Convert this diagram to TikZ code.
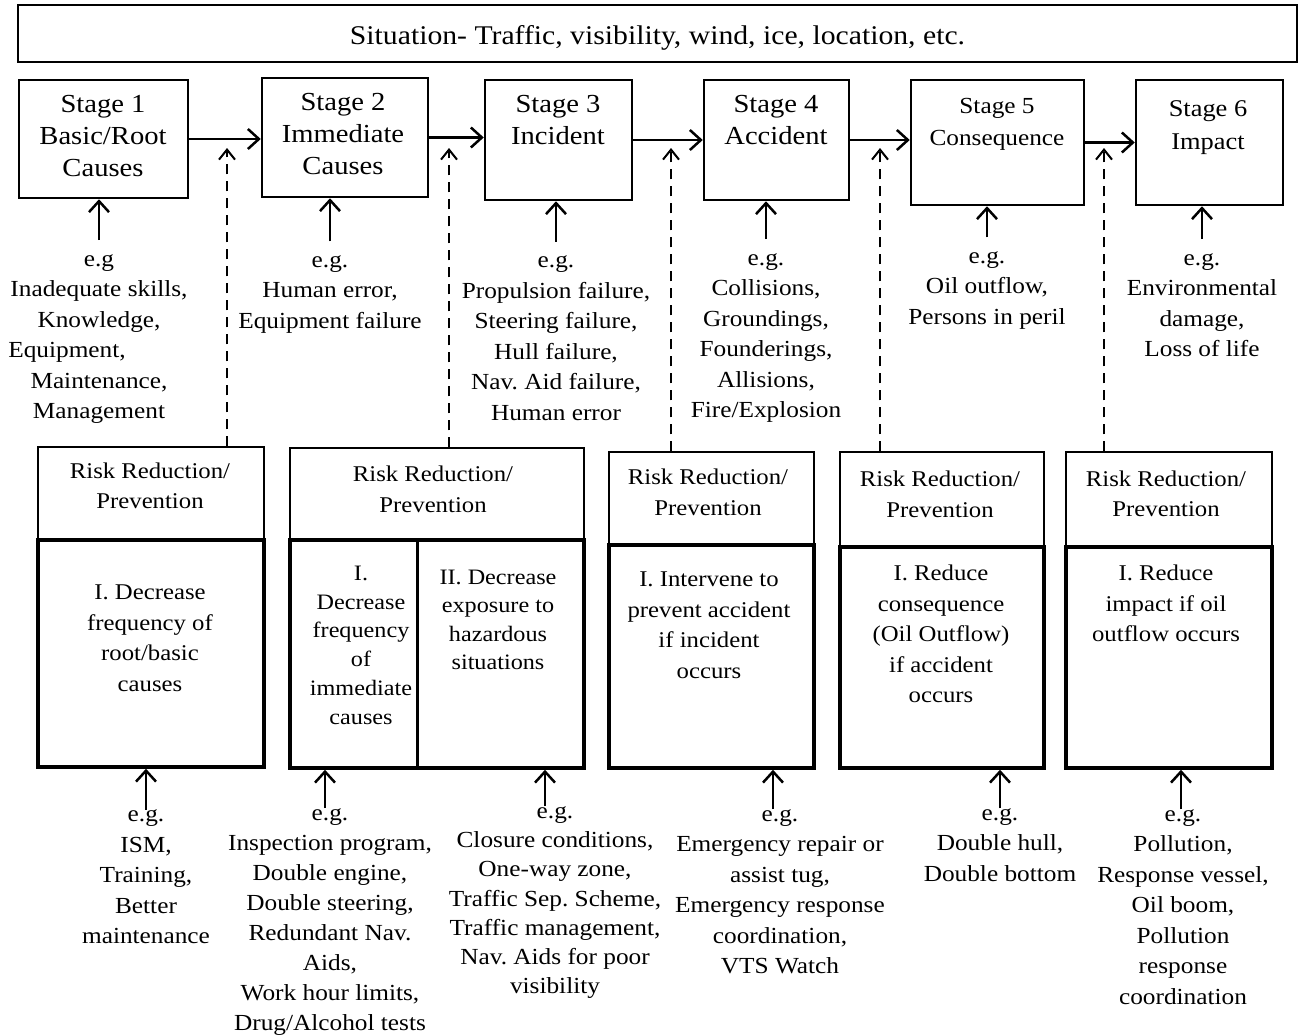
\documentclass[tikz,border=0pt]{standalone}
\usepackage{fontspec}
\setmainfont[FakeStretch=1.1]{Liberation Serif}
\usetikzlibrary{arrows.meta}
\newcommand{\fsz}[2]{\fontsize{#1}{#2}\selectfont}
\begin{document}
\frenchspacing
\begin{tikzpicture}[x=1pt,y=-1pt,
  box/.style={draw, line width=2.5pt, inner sep=0pt},
  hbox/.style={draw, line width=1.5pt, inner sep=0pt},
  bbox/.style={draw, line width=3.5pt, inner sep=0pt},
  txt/.style={align=center, inner sep=0pt, yshift=-5.5pt, execute at begin node=\strut, execute at end node=\strut},
  stagetxt/.style={txt, font=\fsz{26}{32}},
  extxt/.style={txt, font=\fsz{23}{30.5}},
  rtxt/.style={txt, font=\fsz{22.5}{30.5}},
  arr/.style={line width=2.5pt, -{Straight Barb[length=11pt,width=20pt,line width=2.5pt]}},
  darr/.style={line width=2pt, dash pattern=on 10pt off 7pt, -{Straight Barb[length=10pt,width=16pt,line width=2pt]}},
]
\useasboundingbox (0,0) rectangle (1299,1036);

% title
\node[box, line width=2pt, minimum width=1279pt, minimum height=57pt] (top) at (657.5,33.5) {};
\node[txt, font=\fsz{27}{32}] (toptxt) at (657.5,33) {Situation- Traffic, visibility, wind, ice, location, etc.};

% stage boxes
\node[box, minimum width=169pt, minimum height=118pt] (s1) at (103.5,139) {};
\node[box, minimum width=166pt, minimum height=119pt] (s2) at (345,137.5) {};
\node[box, minimum width=147pt, minimum height=120pt] (s3) at (558.5,140) {};
\node[box, minimum width=145pt, minimum height=120pt] (s4) at (776.5,140) {};
\node[box, minimum width=173pt, minimum height=125pt] (s5) at (997.5,142.5) {};
\node[box, minimum width=147pt, minimum height=125pt] (s6) at (1209.5,142.5) {};

\node[stagetxt] (s1t) at (103,135) {Stage 1\\Basic/Root\\Causes};
\node[stagetxt] (s2t) at (343,133) {Stage 2\\Immediate\\Causes};
\node[stagetxt] (s3t) at (558,119) {Stage 3\\Incident};
\node[stagetxt] (s4t) at (776,119) {Stage 4\\Accident};
\node[txt, font=\fsz{23}{32}] (s5t) at (997,121) {Stage 5\\Consequence};
\node[txt, font=\fsz{24}{33}] (s6t) at (1208,124.5) {Stage 6\\Impact};

\draw[arr] (s1.east) -- (s1.east -| s2.west);
\draw[arr] (s2.east) -- (s2.east -| s3.west);
\draw[arr] (s3.east) -- (s3.east -| s4.west);
\draw[arr] (s4.east) -- (s4.east -| s5.west);
\draw[arr] (s5.east) -- (s5.east -| s6.west);

% stage examples
\node[extxt] (e1) at (99,335.5) {e.g\\Inadequate skills,\\Knowledge,\\\hbox{Equipment,\hspace{64pt}}\\Maintenance,\\Management};
\node[extxt] (e2) at (330,291) {e.g.\\Human error,\\Equipment failure};
\node[extxt] (e3) at (556,337) {e.g.\\Propulsion failure,\\Steering failure,\\Hull failure,\\Nav. Aid failure,\\Human error};
\node[extxt] (e4) at (766,334.5) {e.g.\\Collisions,\\Groundings,\\Founderings,\\Allisions,\\Fire/Explosion};
\node[extxt] (e5) at (987,287) {e.g.\\Oil outflow,\\Persons in peril};
\node[extxt] (e6) at (1202,304) {e.g.\\Environmental\\damage,\\Loss of life};

\foreach \i in {1,...,6}{
  \draw[arr] ([yshift=14pt]e\i.north) -- (e\i.north |- s\i.south);
}

% risk reduction boxes
\node[hbox, minimum width=226pt, minimum height=93pt] (r1h) at (151,493.5) {};
\node[bbox, minimum width=226pt, minimum height=227pt] (r1b) at (151,653.5) {};
\node[hbox, minimum width=294pt, minimum height=92pt] (r2h) at (437,494) {};
\node[bbox, minimum width=294pt, minimum height=228pt] (r2b) at (437,654) {};
\coordinate (div) at (417,0);
\draw[line width=3pt] (r2b.north -| div) -- (r2b.south -| div);
\node[hbox, minimum width=205pt, minimum height=93pt] (r3h) at (711.5,498.5) {};
\node[bbox, minimum width=205pt, minimum height=223pt] (r3b) at (711.5,656.5) {};
\node[hbox, minimum width=204pt, minimum height=95pt] (r4h) at (942,499.5) {};
\node[bbox, minimum width=204pt, minimum height=221pt] (r4b) at (942,657.5) {};
\node[hbox, minimum width=206pt, minimum height=95pt] (r5h) at (1169,499.5) {};
\node[bbox, minimum width=206pt, minimum height=221pt] (r5b) at (1169,657.5) {};

\node[rtxt] (r1ht) at (150,485) {Risk Reduction/\\Prevention};
\node[rtxt] (r2ht) at (433,488.5) {Risk Reduction/\\Prevention};
\node[rtxt] (r3ht) at (708,491.5) {Risk Reduction/\\Prevention};
\node[rtxt] (r4ht) at (940,493.5) {Risk Reduction/\\Prevention};
\node[rtxt] (r5ht) at (1166,493) {Risk Reduction/\\Prevention};

\node[rtxt] (r1bt) at (150,637) {I. Decrease\\frequency of\\root/basic\\causes};
\node[txt, font=\fsz{22}{28.8}] (r2lt) at (361,644) {I.\\Decrease\\frequency\\of\\immediate\\causes};
\node[txt, font=\fsz{22}{28.3}] (r2rt) at (498,618.5) {II. Decrease\\exposure to\\hazardous\\situations};
\node[rtxt] (r3bt) at (709,624) {I. Intervene to\\prevent accident\\if incident\\occurs};
\node[rtxt] (r4bt) at (941,633) {I. Reduce\\consequence\\(Oil Outflow)\\if accident\\occurs};
\node[rtxt] (r5bt) at (1166,602.5) {I. Reduce\\impact if oil\\outflow occurs};

% dashed arrows
\coordinate (t1) at (227,148);
\coordinate (t2) at (449,148);
\coordinate (t3) at (671,148);
\coordinate (t4) at (880,148);
\coordinate (t5) at (1104,148);
\draw[darr] (r1h.north -| t1) -- (t1);
\draw[darr] (r2h.north -| t2) -- (t2);
\draw[darr] (r3h.north -| t3) -- (t3);
\draw[darr] (r4h.north -| t4) -- (t4);
\draw[darr] (r5h.north -| t5) -- (t5);

% bottom examples
\node[extxt] (b1) at (146,876) {e.g.\\ISM,\\Training,\\Better\\maintenance};
\node[extxt, font=\fsz{23}{30.1}] (b2) at (330,918.5) {e.g.\\Inspection program,\\Double engine,\\Double steering,\\Redundant Nav.\\Aids,\\Work hour limits,\\Drug/Alcohol tests};
\node[extxt, font=\fsz{23}{29.3}] (b3) at (555,899) {e.g.\\Closure conditions,\\One-way zone,\\Traffic Sep. Scheme,\\Traffic management,\\Nav. Aids for poor\\visibility};
\node[extxt] (b4) at (780,890.5) {e.g.\\Emergency repair or\\assist tug,\\Emergency response\\coordination,\\VTS Watch};
\node[extxt] (b5) at (1000,844) {e.g.\\Double hull,\\Double bottom};
\node[extxt] (b6) at (1183,906) {e.g.\\Pollution,\\Response vessel,\\Oil boom,\\Pollution\\response\\coordination};

\draw[arr] (b1.north) -- (b1.north |- r1b.south);
\draw[arr] ([xshift=-5pt]b2.north) -- ([xshift=-5pt]b2.north |- r2b.south);
\draw[arr] ([xshift=-10pt]b3.north) -- ([xshift=-10pt]b3.north |- r2b.south);
\draw[arr] ([xshift=-7pt]b4.north) -- ([xshift=-7pt]b4.north |- r3b.south);
\draw[arr] (b5.north) -- (b5.north |- r4b.south);
\draw[arr] ([xshift=-2pt]b6.north) -- ([xshift=-2pt]b6.north |- r5b.south);
\end{tikzpicture}
\end{document}
